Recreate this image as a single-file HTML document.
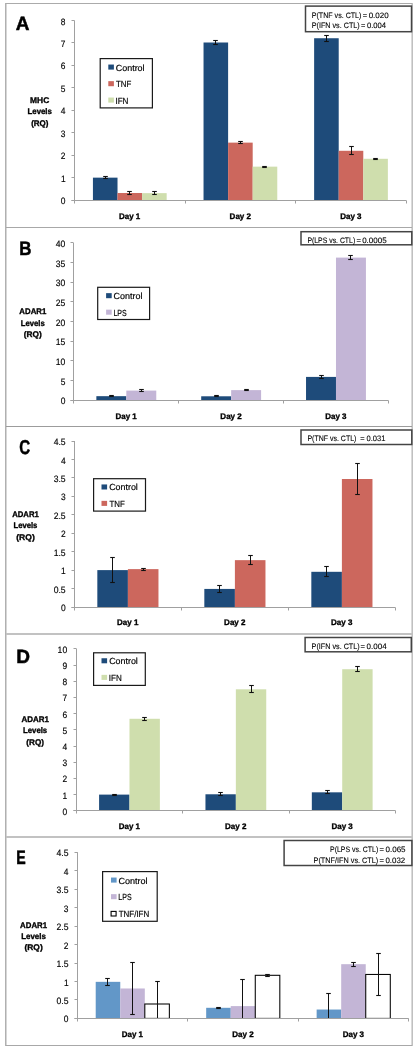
<!DOCTYPE html>
<html><head><meta charset="utf-8"><style>
html,body{margin:0;padding:0;background:#fff;width:417px;height:1050px;overflow:hidden}
svg{display:block;font-family:"Liberation Sans",sans-serif;-webkit-font-smoothing:antialiased;will-change:transform;text-rendering:geometricPrecision}
</style></head><body>
<svg width="417" height="1050" viewBox="0 0 417 1050" font-family="Liberation Sans, sans-serif">
<rect width="417" height="1050" fill="#fff"/>
<rect x="5" y="3" width="408" height="1" fill="#ababab"/>
<rect x="5" y="1045" width="408" height="1" fill="#a8a8a8"/>
<rect x="5" y="3" width="1" height="1043" fill="#b0b0b0"/>
<rect x="6" y="4" width="1" height="1041" fill="#d6d6d6"/>
<rect x="412" y="3" width="1" height="1043" fill="#c0c0c0"/>
<rect x="411" y="4" width="1" height="1041" fill="#dadada"/>
<rect x="6" y="227" width="406" height="1" fill="#a8a8a8"/>
<rect x="6" y="426" width="406" height="1" fill="#9c9c9c"/>
<rect x="6" y="633" width="406" height="2" fill="#c2c2c2"/>
<rect x="6" y="836" width="406" height="2" fill="#c2c2c2"/>
<rect x="92.93" y="177.65" width="24.58" height="22.45" fill="#1e4b7a"/>
<rect x="203.53" y="42.5" width="24.58" height="157.6" fill="#1e4b7a"/>
<rect x="314.13" y="38.24" width="24.58" height="161.86" fill="#1e4b7a"/>
<rect x="117.51" y="193.01" width="24.58" height="7.09" fill="#cc675d"/>
<rect x="228.11" y="142.63" width="24.58" height="57.47" fill="#cc675d"/>
<rect x="338.71" y="150.8" width="24.58" height="49.3" fill="#cc675d"/>
<rect x="142.09" y="193.14" width="24.58" height="6.96" fill="#cfdead"/>
<rect x="252.69" y="166.65" width="24.58" height="33.45" fill="#cfdead"/>
<rect x="363.29" y="158.79" width="24.58" height="41.31" fill="#cfdead"/>
<line x1="105.5" y1="176.5" x2="105.5" y2="178.5" stroke="#111" stroke-width="1"/>
<line x1="103.2" y1="176.5" x2="107.8" y2="176.5" stroke="#111" stroke-width="1.1"/>
<line x1="103.2" y1="178.5" x2="107.8" y2="178.5" stroke="#111" stroke-width="1.1"/>
<line x1="215.5" y1="40.5" x2="215.5" y2="44.5" stroke="#111" stroke-width="1"/>
<line x1="213.2" y1="40.5" x2="217.8" y2="40.5" stroke="#111" stroke-width="1.1"/>
<line x1="213.2" y1="44.5" x2="217.8" y2="44.5" stroke="#111" stroke-width="1.1"/>
<line x1="326.5" y1="35.5" x2="326.5" y2="41.5" stroke="#111" stroke-width="1"/>
<line x1="324.2" y1="35.5" x2="328.8" y2="35.5" stroke="#111" stroke-width="1.1"/>
<line x1="324.2" y1="41.5" x2="328.8" y2="41.5" stroke="#111" stroke-width="1.1"/>
<line x1="129.5" y1="191.5" x2="129.5" y2="194.5" stroke="#111" stroke-width="1"/>
<line x1="127.2" y1="191.5" x2="131.8" y2="191.5" stroke="#111" stroke-width="1.1"/>
<line x1="127.2" y1="194.5" x2="131.8" y2="194.5" stroke="#111" stroke-width="1.1"/>
<line x1="240.5" y1="141.5" x2="240.5" y2="143.5" stroke="#111" stroke-width="1"/>
<line x1="238.2" y1="141.5" x2="242.8" y2="141.5" stroke="#111" stroke-width="1.1"/>
<line x1="238.2" y1="143.5" x2="242.8" y2="143.5" stroke="#111" stroke-width="1.1"/>
<line x1="351.5" y1="146.5" x2="351.5" y2="154.5" stroke="#111" stroke-width="1"/>
<line x1="349.2" y1="146.5" x2="353.8" y2="146.5" stroke="#111" stroke-width="1.1"/>
<line x1="349.2" y1="154.5" x2="353.8" y2="154.5" stroke="#111" stroke-width="1.1"/>
<line x1="154.5" y1="191.5" x2="154.5" y2="194.5" stroke="#111" stroke-width="1"/>
<line x1="152.2" y1="191.5" x2="156.8" y2="191.5" stroke="#111" stroke-width="1.1"/>
<line x1="152.2" y1="194.5" x2="156.8" y2="194.5" stroke="#111" stroke-width="1.1"/>
<line x1="264.5" y1="166.5" x2="264.5" y2="167.5" stroke="#111" stroke-width="1"/>
<line x1="262.2" y1="166.5" x2="266.8" y2="166.5" stroke="#111" stroke-width="1.1"/>
<line x1="262.2" y1="167.5" x2="266.8" y2="167.5" stroke="#111" stroke-width="1.1"/>
<line x1="375.5" y1="158.5" x2="375.5" y2="159.5" stroke="#111" stroke-width="1"/>
<line x1="373.2" y1="158.5" x2="377.8" y2="158.5" stroke="#111" stroke-width="1.1"/>
<line x1="373.2" y1="159.5" x2="377.8" y2="159.5" stroke="#111" stroke-width="1.1"/>
<line x1="74.5" y1="20.5" x2="74.5" y2="203.5" stroke="#a0a0a0" stroke-width="1"/>
<line x1="71.5" y1="200.5" x2="406.3" y2="200.5" stroke="#a0a0a0" stroke-width="1"/>
<line x1="71.5" y1="200.5" x2="74.5" y2="200.5" stroke="#a0a0a0" stroke-width="1"/>
<text transform="translate(60.78,204.18) scale(0.9177,1)" font-size="9.2" font-weight="normal" fill="#000" stroke="#000" stroke-width="0.15">0</text>
<line x1="71.5" y1="177.5" x2="74.5" y2="177.5" stroke="#a0a0a0" stroke-width="1"/>
<text transform="translate(60.88,181.73) scale(0.9141,1)" font-size="9.2" font-weight="normal" fill="#000" stroke="#000" stroke-width="0.15">1</text>
<line x1="71.5" y1="155.5" x2="74.5" y2="155.5" stroke="#a0a0a0" stroke-width="1"/>
<text transform="translate(60.87,159.28) scale(0.9161,1)" font-size="9.2" font-weight="normal" fill="#000" stroke="#000" stroke-width="0.15">2</text>
<line x1="71.5" y1="132.5" x2="74.5" y2="132.5" stroke="#a0a0a0" stroke-width="1"/>
<text transform="translate(60.82,136.83) scale(0.9173,1)" font-size="9.2" font-weight="normal" fill="#000" stroke="#000" stroke-width="0.15">3</text>
<line x1="71.5" y1="110.5" x2="74.5" y2="110.5" stroke="#a0a0a0" stroke-width="1"/>
<text transform="translate(60.68,114.38) scale(0.9194,1)" font-size="9.2" font-weight="normal" fill="#000" stroke="#000" stroke-width="0.15">4</text>
<line x1="71.5" y1="87.5" x2="74.5" y2="87.5" stroke="#a0a0a0" stroke-width="1"/>
<text transform="translate(60.78,91.92) scale(0.9177,1)" font-size="9.2" font-weight="normal" fill="#000" stroke="#000" stroke-width="0.15">5</text>
<line x1="71.5" y1="65.5" x2="74.5" y2="65.5" stroke="#a0a0a0" stroke-width="1"/>
<text transform="translate(60.82,69.48) scale(0.9165,1)" font-size="9.2" font-weight="normal" fill="#000" stroke="#000" stroke-width="0.15">6</text>
<line x1="71.5" y1="42.5" x2="74.5" y2="42.5" stroke="#a0a0a0" stroke-width="1"/>
<text transform="translate(60.87,47.02) scale(0.9161,1)" font-size="9.2" font-weight="normal" fill="#000" stroke="#000" stroke-width="0.15">7</text>
<line x1="71.5" y1="20.5" x2="74.5" y2="20.5" stroke="#a0a0a0" stroke-width="1"/>
<text transform="translate(60.78,24.57) scale(0.9173,1)" font-size="9.2" font-weight="normal" fill="#000" stroke="#000" stroke-width="0.15">8</text>
<line x1="185.5" y1="200.5" x2="185.5" y2="203.5" stroke="#a0a0a0" stroke-width="1"/>
<line x1="295.5" y1="200.5" x2="295.5" y2="203.5" stroke="#a0a0a0" stroke-width="1"/>
<line x1="406.5" y1="200.5" x2="406.5" y2="203.5" stroke="#a0a0a0" stroke-width="1"/>
<text transform="translate(119,218.53) scale(0.9896,1)" font-size="8.07" font-weight="bold" fill="#000" stroke="#000" stroke-width="0.33">Day 1</text>
<text transform="translate(229.59,218.53) scale(0.9954,1)" font-size="8.07" font-weight="bold" fill="#000" stroke="#000" stroke-width="0.33">Day 2</text>
<text transform="translate(340.19,218.53) scale(0.9934,1)" font-size="8.07" font-weight="bold" fill="#000" stroke="#000" stroke-width="0.33">Day 3</text>
<text transform="translate(15.68,30.45) scale(0.9761,1)" font-size="19.42" font-weight="bold" fill="#000" stroke="#000" stroke-width="0.5">A</text>
<text transform="translate(30.07,102.83) scale(1.0231,1)" font-size="8.22" font-weight="bold" fill="#000" stroke="#000" stroke-width="0.33">MHC</text>
<text transform="translate(27.56,114.33) scale(0.9505,1)" font-size="8.22" font-weight="bold" fill="#000" stroke="#000" stroke-width="0.33">Levels</text>
<text transform="translate(31.17,125.83) scale(0.9683,1)" font-size="8.22" font-weight="bold" fill="#000" stroke="#000" stroke-width="0.33">(RQ)</text>
<rect x="100.2" y="58.6" width="52.2" height="49.3" fill="#fff" stroke="#1a1a1a" stroke-width="1.2"/>
<rect x="108.3" y="64.55" width="5.6" height="5.05" fill="#1e4b7a"/>
<text transform="translate(115.74,70.51) scale(1.0102,1)" font-size="8.87" font-weight="normal" fill="#000" stroke="#000" stroke-width="0.18">Control</text>
<rect x="108.3" y="81.15" width="5.6" height="5.05" fill="#cc675d"/>
<text transform="translate(115.99,87.11) scale(0.8888,1)" font-size="8.87" font-weight="normal" fill="#000" stroke="#000" stroke-width="0.18">TNF</text>
<rect x="108.3" y="97.55" width="5.6" height="5.05" fill="#cfdead"/>
<text transform="translate(115.46,103.51) scale(0.9098,1)" font-size="8.87" font-weight="normal" fill="#000" stroke="#000" stroke-width="0.18">IFN</text>
<rect x="305.5" y="6.1" width="106" height="25.6" fill="#fff" stroke="#444" stroke-width="1.5"/>
<text transform="translate(311.68,18.05) scale(0.9078,1)" font-size="7.83" font-weight="normal" fill="#000" stroke="#000" stroke-width="0.1">P(TNF vs. CTL)</text>
<text transform="translate(362.78,18.05) scale(0.9485,1)" font-size="7.83" font-weight="normal" fill="#000" stroke="#000" stroke-width="0.1">=</text>
<text transform="translate(368.63,18.05) scale(1.0243,1)" font-size="7.83" font-weight="normal" fill="#000" stroke="#000" stroke-width="0.1">0.020</text>
<text transform="translate(311.67,28.45) scale(0.9204,1)" font-size="7.83" font-weight="normal" fill="#000" stroke="#000" stroke-width="0.1">P(IFN vs. CTL)</text>
<text transform="translate(360.88,28.45) scale(0.9485,1)" font-size="7.83" font-weight="normal" fill="#000" stroke="#000" stroke-width="0.1">=</text>
<text transform="translate(366.94,28.45) scale(0.9781,1)" font-size="7.83" font-weight="normal" fill="#000" stroke="#000" stroke-width="0.1">0.004</text>
<rect x="96.36" y="396.17" width="29.95" height="3.93" fill="#1e4b7a"/>
<rect x="201.2" y="396.29" width="29.95" height="3.81" fill="#1e4b7a"/>
<rect x="306.03" y="376.91" width="29.95" height="23.19" fill="#1e4b7a"/>
<rect x="126.32" y="390.59" width="29.95" height="9.51" fill="#c3b5d6"/>
<rect x="231.15" y="390.12" width="29.95" height="9.98" fill="#c3b5d6"/>
<rect x="335.98" y="257.6" width="29.95" height="142.5" fill="#c3b5d6"/>
<line x1="111.5" y1="395.5" x2="111.5" y2="396.5" stroke="#111" stroke-width="1"/>
<line x1="109.2" y1="395.5" x2="113.8" y2="395.5" stroke="#111" stroke-width="1.1"/>
<line x1="109.2" y1="396.5" x2="113.8" y2="396.5" stroke="#111" stroke-width="1.1"/>
<line x1="216.5" y1="395.5" x2="216.5" y2="396.5" stroke="#111" stroke-width="1"/>
<line x1="214.2" y1="395.5" x2="218.8" y2="395.5" stroke="#111" stroke-width="1.1"/>
<line x1="214.2" y1="396.5" x2="218.8" y2="396.5" stroke="#111" stroke-width="1.1"/>
<line x1="321.5" y1="375.5" x2="321.5" y2="378.5" stroke="#111" stroke-width="1"/>
<line x1="319.2" y1="375.5" x2="323.8" y2="375.5" stroke="#111" stroke-width="1.1"/>
<line x1="319.2" y1="378.5" x2="323.8" y2="378.5" stroke="#111" stroke-width="1.1"/>
<line x1="141.5" y1="389.5" x2="141.5" y2="391.5" stroke="#111" stroke-width="1"/>
<line x1="139.2" y1="389.5" x2="143.8" y2="389.5" stroke="#111" stroke-width="1.1"/>
<line x1="139.2" y1="391.5" x2="143.8" y2="391.5" stroke="#111" stroke-width="1.1"/>
<line x1="246.5" y1="389.5" x2="246.5" y2="390.5" stroke="#111" stroke-width="1"/>
<line x1="244.2" y1="389.5" x2="248.8" y2="389.5" stroke="#111" stroke-width="1.1"/>
<line x1="244.2" y1="390.5" x2="248.8" y2="390.5" stroke="#111" stroke-width="1.1"/>
<line x1="350.5" y1="255.5" x2="350.5" y2="259.5" stroke="#111" stroke-width="1"/>
<line x1="348.2" y1="255.5" x2="352.8" y2="255.5" stroke="#111" stroke-width="1.1"/>
<line x1="348.2" y1="259.5" x2="352.8" y2="259.5" stroke="#111" stroke-width="1.1"/>
<line x1="73.5" y1="242.9" x2="73.5" y2="403.5" stroke="#a0a0a0" stroke-width="1"/>
<line x1="70.5" y1="400.5" x2="388.4" y2="400.5" stroke="#a0a0a0" stroke-width="1"/>
<line x1="70.5" y1="400.5" x2="73.5" y2="400.5" stroke="#a0a0a0" stroke-width="1"/>
<text transform="translate(60.68,404.18) scale(0.9177,1)" font-size="9.2" font-weight="normal" fill="#000" stroke="#000" stroke-width="0.15">0</text>
<line x1="70.5" y1="380.5" x2="73.5" y2="380.5" stroke="#a0a0a0" stroke-width="1"/>
<text transform="translate(60.68,384.53) scale(0.9177,1)" font-size="9.2" font-weight="normal" fill="#000" stroke="#000" stroke-width="0.15">5</text>
<line x1="70.5" y1="360.5" x2="73.5" y2="360.5" stroke="#a0a0a0" stroke-width="1"/>
<text transform="translate(55.81,364.88) scale(0.9356,1)" font-size="9.2" font-weight="normal" fill="#000" stroke="#000" stroke-width="0.15">10</text>
<line x1="70.5" y1="341.5" x2="73.5" y2="341.5" stroke="#a0a0a0" stroke-width="1"/>
<text transform="translate(55.81,345.23) scale(0.9356,1)" font-size="9.2" font-weight="normal" fill="#000" stroke="#000" stroke-width="0.15">15</text>
<line x1="70.5" y1="321.5" x2="73.5" y2="321.5" stroke="#a0a0a0" stroke-width="1"/>
<text transform="translate(55.81,325.57) scale(0.9360,1)" font-size="9.2" font-weight="normal" fill="#000" stroke="#000" stroke-width="0.15">20</text>
<line x1="70.5" y1="301.5" x2="73.5" y2="301.5" stroke="#a0a0a0" stroke-width="1"/>
<text transform="translate(55.81,305.93) scale(0.9360,1)" font-size="9.2" font-weight="normal" fill="#000" stroke="#000" stroke-width="0.15">25</text>
<line x1="70.5" y1="282.5" x2="73.5" y2="282.5" stroke="#a0a0a0" stroke-width="1"/>
<text transform="translate(55.81,286.27) scale(0.9361,1)" font-size="9.2" font-weight="normal" fill="#000" stroke="#000" stroke-width="0.15">30</text>
<line x1="70.5" y1="262.5" x2="73.5" y2="262.5" stroke="#a0a0a0" stroke-width="1"/>
<text transform="translate(55.81,266.62) scale(0.9361,1)" font-size="9.2" font-weight="normal" fill="#000" stroke="#000" stroke-width="0.15">35</text>
<line x1="70.5" y1="242.5" x2="73.5" y2="242.5" stroke="#a0a0a0" stroke-width="1"/>
<text transform="translate(55.8,246.98) scale(0.9364,1)" font-size="9.2" font-weight="normal" fill="#000" stroke="#000" stroke-width="0.15">40</text>
<line x1="178.5" y1="400.5" x2="178.5" y2="403.5" stroke="#a0a0a0" stroke-width="1"/>
<line x1="283.5" y1="400.5" x2="283.5" y2="403.5" stroke="#a0a0a0" stroke-width="1"/>
<line x1="388.5" y1="400.5" x2="388.5" y2="403.5" stroke="#a0a0a0" stroke-width="1"/>
<text transform="translate(115.51,418.53) scale(0.9896,1)" font-size="8.07" font-weight="bold" fill="#000" stroke="#000" stroke-width="0.33">Day 1</text>
<text transform="translate(220.34,418.53) scale(0.9954,1)" font-size="8.07" font-weight="bold" fill="#000" stroke="#000" stroke-width="0.33">Day 2</text>
<text transform="translate(325.18,418.53) scale(0.9934,1)" font-size="8.07" font-weight="bold" fill="#000" stroke="#000" stroke-width="0.33">Day 3</text>
<text transform="translate(19.25,254.65) scale(0.8695,1)" font-size="19.42" font-weight="bold" fill="#000" stroke="#000" stroke-width="0.5">B</text>
<text transform="translate(19.37,314.13) scale(0.9488,1)" font-size="8.22" font-weight="bold" fill="#000" stroke="#000" stroke-width="0.33">ADAR1</text>
<text transform="translate(20.77,325.53) scale(0.9343,1)" font-size="8.22" font-weight="bold" fill="#000" stroke="#000" stroke-width="0.33">Levels</text>
<text transform="translate(23.8,336.83) scale(1.0094,1)" font-size="8.22" font-weight="bold" fill="#000" stroke="#000" stroke-width="0.33">(RQ)</text>
<rect x="97.7" y="287.3" width="51.9" height="32.2" fill="#fff" stroke="#1a1a1a" stroke-width="1.2"/>
<rect x="106.1" y="293.15" width="5.6" height="5.05" fill="#1e4b7a"/>
<text transform="translate(113.54,299.11) scale(1.0102,1)" font-size="8.87" font-weight="normal" fill="#000" stroke="#000" stroke-width="0.18">Control</text>
<rect x="106.1" y="309.65" width="5.6" height="5.05" fill="#c3b5d6"/>
<text transform="translate(113.43,315.61) scale(0.7934,1)" font-size="8.87" font-weight="normal" fill="#000" stroke="#000" stroke-width="0.18">LPS</text>
<rect x="301" y="231.7" width="110.8" height="13.1" fill="#fff" stroke="#444" stroke-width="1.5"/>
<text transform="translate(307.4,243.05) scale(0.8788,1)" font-size="7.83" font-weight="normal" fill="#000" stroke="#000" stroke-width="0.1">P(LPS vs. CTL)</text>
<text transform="translate(356.47,243.05) scale(0.9748,1)" font-size="7.83" font-weight="normal" fill="#000" stroke="#000" stroke-width="0.1">=</text>
<text transform="translate(362.13,243.05) scale(1.0248,1)" font-size="7.83" font-weight="normal" fill="#000" stroke="#000" stroke-width="0.1">0.0005</text>
<rect x="97.33" y="570.11" width="30.57" height="36.89" fill="#1e4b7a"/>
<rect x="204.33" y="588.92" width="30.57" height="18.08" fill="#1e4b7a"/>
<rect x="311.33" y="571.81" width="30.57" height="35.19" fill="#1e4b7a"/>
<rect x="127.9" y="569.12" width="30.57" height="37.88" fill="#cc675d"/>
<rect x="234.9" y="560.15" width="30.57" height="46.85" fill="#cc675d"/>
<rect x="341.9" y="479" width="30.57" height="128" fill="#cc675d"/>
<line x1="112.5" y1="557.5" x2="112.5" y2="582.5" stroke="#111" stroke-width="1"/>
<line x1="110.2" y1="557.5" x2="114.8" y2="557.5" stroke="#111" stroke-width="1.1"/>
<line x1="110.2" y1="582.5" x2="114.8" y2="582.5" stroke="#111" stroke-width="1.1"/>
<line x1="219.5" y1="585.5" x2="219.5" y2="592.5" stroke="#111" stroke-width="1"/>
<line x1="217.2" y1="585.5" x2="221.8" y2="585.5" stroke="#111" stroke-width="1.1"/>
<line x1="217.2" y1="592.5" x2="221.8" y2="592.5" stroke="#111" stroke-width="1.1"/>
<line x1="326.5" y1="566.5" x2="326.5" y2="576.5" stroke="#111" stroke-width="1"/>
<line x1="324.2" y1="566.5" x2="328.8" y2="566.5" stroke="#111" stroke-width="1.1"/>
<line x1="324.2" y1="576.5" x2="328.8" y2="576.5" stroke="#111" stroke-width="1.1"/>
<line x1="143.5" y1="568.5" x2="143.5" y2="570.5" stroke="#111" stroke-width="1"/>
<line x1="141.2" y1="568.5" x2="145.8" y2="568.5" stroke="#111" stroke-width="1.1"/>
<line x1="141.2" y1="570.5" x2="145.8" y2="570.5" stroke="#111" stroke-width="1.1"/>
<line x1="250.5" y1="555.5" x2="250.5" y2="564.5" stroke="#111" stroke-width="1"/>
<line x1="248.2" y1="555.5" x2="252.8" y2="555.5" stroke="#111" stroke-width="1.1"/>
<line x1="248.2" y1="564.5" x2="252.8" y2="564.5" stroke="#111" stroke-width="1.1"/>
<line x1="357.5" y1="463.5" x2="357.5" y2="494.5" stroke="#111" stroke-width="1"/>
<line x1="355.2" y1="463.5" x2="359.8" y2="463.5" stroke="#111" stroke-width="1.1"/>
<line x1="355.2" y1="494.5" x2="359.8" y2="494.5" stroke="#111" stroke-width="1.1"/>
<line x1="74.5" y1="441" x2="74.5" y2="610.5" stroke="#a0a0a0" stroke-width="1"/>
<line x1="71.5" y1="607.5" x2="395.4" y2="607.5" stroke="#a0a0a0" stroke-width="1"/>
<line x1="71.5" y1="607.5" x2="74.5" y2="607.5" stroke="#a0a0a0" stroke-width="1"/>
<text transform="translate(60.98,611.07) scale(0.9177,1)" font-size="9.2" font-weight="normal" fill="#000" stroke="#000" stroke-width="0.15">0</text>
<line x1="71.5" y1="588.5" x2="74.5" y2="588.5" stroke="#a0a0a0" stroke-width="1"/>
<text transform="translate(53.65,592.63) scale(0.9395,1)" font-size="9.2" font-weight="normal" fill="#000" stroke="#000" stroke-width="0.15">0.5</text>
<line x1="71.5" y1="570.5" x2="74.5" y2="570.5" stroke="#a0a0a0" stroke-width="1"/>
<text transform="translate(61.08,574.19) scale(0.9141,1)" font-size="9.2" font-weight="normal" fill="#000" stroke="#000" stroke-width="0.15">1</text>
<line x1="71.5" y1="551.5" x2="74.5" y2="551.5" stroke="#a0a0a0" stroke-width="1"/>
<text transform="translate(53.66,555.74) scale(0.9392,1)" font-size="9.2" font-weight="normal" fill="#000" stroke="#000" stroke-width="0.15">1.5</text>
<line x1="71.5" y1="533.5" x2="74.5" y2="533.5" stroke="#a0a0a0" stroke-width="1"/>
<text transform="translate(61.07,537.3) scale(0.9161,1)" font-size="9.2" font-weight="normal" fill="#000" stroke="#000" stroke-width="0.15">2</text>
<line x1="71.5" y1="514.5" x2="74.5" y2="514.5" stroke="#a0a0a0" stroke-width="1"/>
<text transform="translate(53.65,518.85) scale(0.9394,1)" font-size="9.2" font-weight="normal" fill="#000" stroke="#000" stroke-width="0.15">2.5</text>
<line x1="71.5" y1="496.5" x2="74.5" y2="496.5" stroke="#a0a0a0" stroke-width="1"/>
<text transform="translate(61.02,500.41) scale(0.9173,1)" font-size="9.2" font-weight="normal" fill="#000" stroke="#000" stroke-width="0.15">3</text>
<line x1="71.5" y1="477.5" x2="74.5" y2="477.5" stroke="#a0a0a0" stroke-width="1"/>
<text transform="translate(53.65,481.96) scale(0.9395,1)" font-size="9.2" font-weight="normal" fill="#000" stroke="#000" stroke-width="0.15">3.5</text>
<line x1="71.5" y1="459.5" x2="74.5" y2="459.5" stroke="#a0a0a0" stroke-width="1"/>
<text transform="translate(60.88,463.52) scale(0.9194,1)" font-size="9.2" font-weight="normal" fill="#000" stroke="#000" stroke-width="0.15">4</text>
<line x1="71.5" y1="441.5" x2="74.5" y2="441.5" stroke="#a0a0a0" stroke-width="1"/>
<text transform="translate(53.65,445.07) scale(0.9397,1)" font-size="9.2" font-weight="normal" fill="#000" stroke="#000" stroke-width="0.15">4.5</text>
<line x1="181.5" y1="607.5" x2="181.5" y2="610.5" stroke="#a0a0a0" stroke-width="1"/>
<line x1="288.5" y1="607.5" x2="288.5" y2="610.5" stroke="#a0a0a0" stroke-width="1"/>
<line x1="395.5" y1="607.5" x2="395.5" y2="610.5" stroke="#a0a0a0" stroke-width="1"/>
<text transform="translate(117.1,624.94) scale(0.9896,1)" font-size="8.07" font-weight="bold" fill="#000" stroke="#000" stroke-width="0.33">Day 1</text>
<text transform="translate(224.09,624.94) scale(0.9954,1)" font-size="8.07" font-weight="bold" fill="#000" stroke="#000" stroke-width="0.33">Day 2</text>
<text transform="translate(331.09,624.94) scale(0.9934,1)" font-size="8.07" font-weight="bold" fill="#000" stroke="#000" stroke-width="0.33">Day 3</text>
<text transform="translate(19.35,454.35) scale(0.7503,1)" font-size="20.14" font-weight="bold" fill="#000" stroke="#000" stroke-width="0.5">C</text>
<text transform="translate(12.17,516.84) scale(0.9416,1)" font-size="8.22" font-weight="bold" fill="#000" stroke="#000" stroke-width="0.33">ADAR1</text>
<text transform="translate(13.47,528.34) scale(0.9343,1)" font-size="8.22" font-weight="bold" fill="#000" stroke="#000" stroke-width="0.33">Levels</text>
<text transform="translate(16.24,539.63) scale(1.0388,1)" font-size="8.22" font-weight="bold" fill="#000" stroke="#000" stroke-width="0.33">(RQ)</text>
<rect x="93.6" y="478.7" width="51.9" height="32.4" fill="#fff" stroke="#1a1a1a" stroke-width="1.2"/>
<rect x="101.5" y="484.45" width="5.6" height="5.05" fill="#1e4b7a"/>
<text transform="translate(109.15,490.41) scale(1.0029,1)" font-size="8.87" font-weight="normal" fill="#000" stroke="#000" stroke-width="0.18">Control</text>
<rect x="101.5" y="500.85" width="5.6" height="5.05" fill="#cc675d"/>
<text transform="translate(109.39,506.81) scale(0.8888,1)" font-size="8.87" font-weight="normal" fill="#000" stroke="#000" stroke-width="0.18">TNF</text>
<rect x="301" y="430" width="110.8" height="14.5" fill="#fff" stroke="#444" stroke-width="1.5"/>
<text transform="translate(307.39,441.25) scale(0.8947,1)" font-size="7.83" font-weight="normal" fill="#000" stroke="#000" stroke-width="0.1">P(TNF vs. CTL)</text>
<text transform="translate(360.28,441.25) scale(0.9485,1)" font-size="7.83" font-weight="normal" fill="#000" stroke="#000" stroke-width="0.1">=</text>
<text transform="translate(366.55,441.25) scale(0.9650,1)" font-size="7.83" font-weight="normal" fill="#000" stroke="#000" stroke-width="0.1">0.031</text>
<rect x="99.09" y="794.6" width="30.39" height="16.2" fill="#1e4b7a"/>
<rect x="205.46" y="794.28" width="30.39" height="16.52" fill="#1e4b7a"/>
<rect x="311.83" y="792.33" width="30.39" height="18.47" fill="#1e4b7a"/>
<rect x="129.48" y="718.78" width="30.39" height="92.02" fill="#cfdead"/>
<rect x="235.85" y="689.3" width="30.39" height="121.5" fill="#cfdead"/>
<rect x="342.22" y="669.21" width="30.39" height="141.59" fill="#cfdead"/>
<line x1="114.5" y1="794.5" x2="114.5" y2="795.5" stroke="#111" stroke-width="1"/>
<line x1="112.2" y1="794.5" x2="116.8" y2="794.5" stroke="#111" stroke-width="1.1"/>
<line x1="112.2" y1="795.5" x2="116.8" y2="795.5" stroke="#111" stroke-width="1.1"/>
<line x1="220.5" y1="792.5" x2="220.5" y2="795.5" stroke="#111" stroke-width="1"/>
<line x1="218.2" y1="792.5" x2="222.8" y2="792.5" stroke="#111" stroke-width="1.1"/>
<line x1="218.2" y1="795.5" x2="222.8" y2="795.5" stroke="#111" stroke-width="1.1"/>
<line x1="327.5" y1="790.5" x2="327.5" y2="793.5" stroke="#111" stroke-width="1"/>
<line x1="325.2" y1="790.5" x2="329.8" y2="790.5" stroke="#111" stroke-width="1.1"/>
<line x1="325.2" y1="793.5" x2="329.8" y2="793.5" stroke="#111" stroke-width="1.1"/>
<line x1="144.5" y1="717.5" x2="144.5" y2="720.5" stroke="#111" stroke-width="1"/>
<line x1="142.2" y1="717.5" x2="146.8" y2="717.5" stroke="#111" stroke-width="1.1"/>
<line x1="142.2" y1="720.5" x2="146.8" y2="720.5" stroke="#111" stroke-width="1.1"/>
<line x1="251.5" y1="685.5" x2="251.5" y2="692.5" stroke="#111" stroke-width="1"/>
<line x1="249.2" y1="685.5" x2="253.8" y2="685.5" stroke="#111" stroke-width="1.1"/>
<line x1="249.2" y1="692.5" x2="253.8" y2="692.5" stroke="#111" stroke-width="1.1"/>
<line x1="357.5" y1="666.5" x2="357.5" y2="671.5" stroke="#111" stroke-width="1"/>
<line x1="355.2" y1="666.5" x2="359.8" y2="666.5" stroke="#111" stroke-width="1.1"/>
<line x1="355.2" y1="671.5" x2="359.8" y2="671.5" stroke="#111" stroke-width="1.1"/>
<line x1="76.5" y1="648.8" x2="76.5" y2="813.5" stroke="#a0a0a0" stroke-width="1"/>
<line x1="73.5" y1="810.5" x2="395.4" y2="810.5" stroke="#a0a0a0" stroke-width="1"/>
<line x1="73.5" y1="810.5" x2="76.5" y2="810.5" stroke="#a0a0a0" stroke-width="1"/>
<text transform="translate(62.48,814.87) scale(0.9177,1)" font-size="9.2" font-weight="normal" fill="#000" stroke="#000" stroke-width="0.15">0</text>
<line x1="73.5" y1="794.5" x2="76.5" y2="794.5" stroke="#a0a0a0" stroke-width="1"/>
<text transform="translate(62.58,798.67) scale(0.9141,1)" font-size="9.2" font-weight="normal" fill="#000" stroke="#000" stroke-width="0.15">1</text>
<line x1="73.5" y1="778.5" x2="76.5" y2="778.5" stroke="#a0a0a0" stroke-width="1"/>
<text transform="translate(62.57,782.47) scale(0.9161,1)" font-size="9.2" font-weight="normal" fill="#000" stroke="#000" stroke-width="0.15">2</text>
<line x1="73.5" y1="762.5" x2="76.5" y2="762.5" stroke="#a0a0a0" stroke-width="1"/>
<text transform="translate(62.52,766.27) scale(0.9173,1)" font-size="9.2" font-weight="normal" fill="#000" stroke="#000" stroke-width="0.15">3</text>
<line x1="73.5" y1="746.5" x2="76.5" y2="746.5" stroke="#a0a0a0" stroke-width="1"/>
<text transform="translate(62.38,750.07) scale(0.9194,1)" font-size="9.2" font-weight="normal" fill="#000" stroke="#000" stroke-width="0.15">4</text>
<line x1="73.5" y1="729.5" x2="76.5" y2="729.5" stroke="#a0a0a0" stroke-width="1"/>
<text transform="translate(62.48,733.87) scale(0.9177,1)" font-size="9.2" font-weight="normal" fill="#000" stroke="#000" stroke-width="0.15">5</text>
<line x1="73.5" y1="713.5" x2="76.5" y2="713.5" stroke="#a0a0a0" stroke-width="1"/>
<text transform="translate(62.52,717.67) scale(0.9165,1)" font-size="9.2" font-weight="normal" fill="#000" stroke="#000" stroke-width="0.15">6</text>
<line x1="73.5" y1="697.5" x2="76.5" y2="697.5" stroke="#a0a0a0" stroke-width="1"/>
<text transform="translate(62.57,701.47) scale(0.9161,1)" font-size="9.2" font-weight="normal" fill="#000" stroke="#000" stroke-width="0.15">7</text>
<line x1="73.5" y1="681.5" x2="76.5" y2="681.5" stroke="#a0a0a0" stroke-width="1"/>
<text transform="translate(62.48,685.27) scale(0.9173,1)" font-size="9.2" font-weight="normal" fill="#000" stroke="#000" stroke-width="0.15">8</text>
<line x1="73.5" y1="665.5" x2="76.5" y2="665.5" stroke="#a0a0a0" stroke-width="1"/>
<text transform="translate(62.52,669.07) scale(0.9169,1)" font-size="9.2" font-weight="normal" fill="#000" stroke="#000" stroke-width="0.15">9</text>
<line x1="73.5" y1="648.5" x2="76.5" y2="648.5" stroke="#a0a0a0" stroke-width="1"/>
<text transform="translate(57.61,652.87) scale(0.9356,1)" font-size="9.2" font-weight="normal" fill="#000" stroke="#000" stroke-width="0.15">10</text>
<line x1="182.5" y1="810.5" x2="182.5" y2="813.5" stroke="#a0a0a0" stroke-width="1"/>
<line x1="289.5" y1="810.5" x2="289.5" y2="813.5" stroke="#a0a0a0" stroke-width="1"/>
<line x1="395.5" y1="810.5" x2="395.5" y2="813.5" stroke="#a0a0a0" stroke-width="1"/>
<text transform="translate(118.68,829.24) scale(0.9896,1)" font-size="8.07" font-weight="bold" fill="#000" stroke="#000" stroke-width="0.33">Day 1</text>
<text transform="translate(225.04,829.24) scale(0.9954,1)" font-size="8.07" font-weight="bold" fill="#000" stroke="#000" stroke-width="0.33">Day 2</text>
<text transform="translate(331.41,829.24) scale(0.9934,1)" font-size="8.07" font-weight="bold" fill="#000" stroke="#000" stroke-width="0.33">Day 3</text>
<text transform="translate(16.21,662.65) scale(0.9870,1)" font-size="19.28" font-weight="bold" fill="#000" stroke="#000" stroke-width="0.5">D</text>
<text transform="translate(21.47,722.44) scale(0.9703,1)" font-size="8.22" font-weight="bold" fill="#000" stroke="#000" stroke-width="0.33">ADAR1</text>
<text transform="translate(23.06,733.44) scale(0.9424,1)" font-size="8.22" font-weight="bold" fill="#000" stroke="#000" stroke-width="0.33">Levels</text>
<text transform="translate(26.36,744.84) scale(0.9918,1)" font-size="8.22" font-weight="bold" fill="#000" stroke="#000" stroke-width="0.33">(RQ)</text>
<rect x="93.6" y="652.8" width="51.7" height="32.6" fill="#fff" stroke="#1a1a1a" stroke-width="1.2"/>
<rect x="101.5" y="658.25" width="5.6" height="5.05" fill="#1e4b7a"/>
<text transform="translate(109.15,664.21) scale(1.0029,1)" font-size="8.87" font-weight="normal" fill="#000" stroke="#000" stroke-width="0.18">Control</text>
<rect x="101.5" y="674.85" width="5.6" height="5.05" fill="#cfdead"/>
<text transform="translate(108.86,680.81) scale(0.9098,1)" font-size="8.87" font-weight="normal" fill="#000" stroke="#000" stroke-width="0.18">IFN</text>
<rect x="305.1" y="637.5" width="106.2" height="14.3" fill="#fff" stroke="#444" stroke-width="1.5"/>
<text transform="translate(311.57,648.95) scale(0.9223,1)" font-size="7.83" font-weight="normal" fill="#000" stroke="#000" stroke-width="0.1">P(IFN vs. CTL)</text>
<text transform="translate(360.57,648.95) scale(0.9748,1)" font-size="7.83" font-weight="normal" fill="#000" stroke="#000" stroke-width="0.1">=</text>
<text transform="translate(366.53,648.95) scale(1.0254,1)" font-size="7.83" font-weight="normal" fill="#000" stroke="#000" stroke-width="0.1">0.004</text>
<rect x="95.71" y="981.84" width="24.55" height="36.56" fill="#6297c8"/>
<rect x="206.18" y="1007.8" width="24.55" height="10.6" fill="#6297c8"/>
<rect x="316.64" y="1009.54" width="24.55" height="8.86" fill="#6297c8"/>
<rect x="120.26" y="988.48" width="24.55" height="29.92" fill="#c3b5d6"/>
<rect x="230.73" y="1006.1" width="24.55" height="12.3" fill="#c3b5d6"/>
<rect x="341.19" y="964.18" width="24.55" height="54.22" fill="#c3b5d6"/>
<rect x="144.81" y="1004" width="24.55" height="14.4" fill="#fff" stroke="#000" stroke-width="1.05"/>
<rect x="255.27" y="975.3" width="24.55" height="43.1" fill="#fff" stroke="#000" stroke-width="1.05"/>
<rect x="365.74" y="974.45" width="24.55" height="43.95" fill="#fff" stroke="#000" stroke-width="1.05"/>
<line x1="107.5" y1="978.5" x2="107.5" y2="985.5" stroke="#111" stroke-width="1"/>
<line x1="105.2" y1="978.5" x2="109.8" y2="978.5" stroke="#111" stroke-width="1.1"/>
<line x1="105.2" y1="985.5" x2="109.8" y2="985.5" stroke="#111" stroke-width="1.1"/>
<line x1="218.5" y1="1007.5" x2="218.5" y2="1008.5" stroke="#111" stroke-width="1"/>
<line x1="216.2" y1="1007.5" x2="220.8" y2="1007.5" stroke="#111" stroke-width="1.1"/>
<line x1="216.2" y1="1008.5" x2="220.8" y2="1008.5" stroke="#111" stroke-width="1.1"/>
<line x1="328.5" y1="993.5" x2="328.5" y2="1018.4" stroke="#111" stroke-width="1"/>
<line x1="326.2" y1="993.5" x2="330.8" y2="993.5" stroke="#111" stroke-width="1.1"/>
<line x1="132.5" y1="962.5" x2="132.5" y2="1014.5" stroke="#111" stroke-width="1"/>
<line x1="130.2" y1="962.5" x2="134.8" y2="962.5" stroke="#111" stroke-width="1.1"/>
<line x1="130.2" y1="1014.5" x2="134.8" y2="1014.5" stroke="#111" stroke-width="1.1"/>
<line x1="242.5" y1="979.5" x2="242.5" y2="1018.4" stroke="#111" stroke-width="1"/>
<line x1="240.2" y1="979.5" x2="244.8" y2="979.5" stroke="#111" stroke-width="1.1"/>
<line x1="353.5" y1="962.5" x2="353.5" y2="966.5" stroke="#111" stroke-width="1"/>
<line x1="351.2" y1="962.5" x2="355.8" y2="962.5" stroke="#111" stroke-width="1.1"/>
<line x1="351.2" y1="966.5" x2="355.8" y2="966.5" stroke="#111" stroke-width="1.1"/>
<line x1="157.5" y1="981.5" x2="157.5" y2="1018.4" stroke="#111" stroke-width="1"/>
<line x1="155.2" y1="981.5" x2="159.8" y2="981.5" stroke="#111" stroke-width="1.1"/>
<line x1="267.5" y1="974.5" x2="267.5" y2="976.5" stroke="#111" stroke-width="1"/>
<line x1="265.2" y1="974.5" x2="269.8" y2="974.5" stroke="#111" stroke-width="1.1"/>
<line x1="265.2" y1="976.5" x2="269.8" y2="976.5" stroke="#111" stroke-width="1.1"/>
<line x1="378.5" y1="953.5" x2="378.5" y2="995.5" stroke="#111" stroke-width="1"/>
<line x1="376.2" y1="953.5" x2="380.8" y2="953.5" stroke="#111" stroke-width="1.1"/>
<line x1="376.2" y1="995.5" x2="380.8" y2="995.5" stroke="#111" stroke-width="1.1"/>
<line x1="77.5" y1="852.2" x2="77.5" y2="1021.5" stroke="#a0a0a0" stroke-width="1"/>
<line x1="74.5" y1="1018.5" x2="408.7" y2="1018.5" stroke="#a0a0a0" stroke-width="1"/>
<line x1="74.5" y1="1018.5" x2="77.5" y2="1018.5" stroke="#a0a0a0" stroke-width="1"/>
<text transform="translate(63.78,1022.47) scale(0.9177,1)" font-size="9.2" font-weight="normal" fill="#000" stroke="#000" stroke-width="0.15">0</text>
<line x1="74.5" y1="999.5" x2="77.5" y2="999.5" stroke="#a0a0a0" stroke-width="1"/>
<text transform="translate(56.45,1004.01) scale(0.9395,1)" font-size="9.2" font-weight="normal" fill="#000" stroke="#000" stroke-width="0.15">0.5</text>
<line x1="74.5" y1="981.5" x2="77.5" y2="981.5" stroke="#a0a0a0" stroke-width="1"/>
<text transform="translate(63.88,985.54) scale(0.9141,1)" font-size="9.2" font-weight="normal" fill="#000" stroke="#000" stroke-width="0.15">1</text>
<line x1="74.5" y1="963.5" x2="77.5" y2="963.5" stroke="#a0a0a0" stroke-width="1"/>
<text transform="translate(56.46,967.07) scale(0.9392,1)" font-size="9.2" font-weight="normal" fill="#000" stroke="#000" stroke-width="0.15">1.5</text>
<line x1="74.5" y1="944.5" x2="77.5" y2="944.5" stroke="#a0a0a0" stroke-width="1"/>
<text transform="translate(63.87,948.61) scale(0.9161,1)" font-size="9.2" font-weight="normal" fill="#000" stroke="#000" stroke-width="0.15">2</text>
<line x1="74.5" y1="926.5" x2="77.5" y2="926.5" stroke="#a0a0a0" stroke-width="1"/>
<text transform="translate(56.45,930.14) scale(0.9394,1)" font-size="9.2" font-weight="normal" fill="#000" stroke="#000" stroke-width="0.15">2.5</text>
<line x1="74.5" y1="907.5" x2="77.5" y2="907.5" stroke="#a0a0a0" stroke-width="1"/>
<text transform="translate(63.82,911.67) scale(0.9173,1)" font-size="9.2" font-weight="normal" fill="#000" stroke="#000" stroke-width="0.15">3</text>
<line x1="74.5" y1="889.5" x2="77.5" y2="889.5" stroke="#a0a0a0" stroke-width="1"/>
<text transform="translate(56.45,893.21) scale(0.9395,1)" font-size="9.2" font-weight="normal" fill="#000" stroke="#000" stroke-width="0.15">3.5</text>
<line x1="74.5" y1="870.5" x2="77.5" y2="870.5" stroke="#a0a0a0" stroke-width="1"/>
<text transform="translate(63.68,874.74) scale(0.9194,1)" font-size="9.2" font-weight="normal" fill="#000" stroke="#000" stroke-width="0.15">4</text>
<line x1="74.5" y1="852.5" x2="77.5" y2="852.5" stroke="#a0a0a0" stroke-width="1"/>
<text transform="translate(56.45,856.27) scale(0.9397,1)" font-size="9.2" font-weight="normal" fill="#000" stroke="#000" stroke-width="0.15">4.5</text>
<line x1="187.5" y1="1018.5" x2="187.5" y2="1021.5" stroke="#a0a0a0" stroke-width="1"/>
<line x1="298.5" y1="1018.5" x2="298.5" y2="1021.5" stroke="#a0a0a0" stroke-width="1"/>
<line x1="408.5" y1="1018.5" x2="408.5" y2="1021.5" stroke="#a0a0a0" stroke-width="1"/>
<text transform="translate(121.73,1036.93) scale(0.9896,1)" font-size="8.07" font-weight="bold" fill="#000" stroke="#000" stroke-width="0.33">Day 1</text>
<text transform="translate(232.19,1036.93) scale(0.9954,1)" font-size="8.07" font-weight="bold" fill="#000" stroke="#000" stroke-width="0.33">Day 2</text>
<text transform="translate(342.66,1036.93) scale(0.9934,1)" font-size="8.07" font-weight="bold" fill="#000" stroke="#000" stroke-width="0.33">Day 3</text>
<text transform="translate(16.33,864.45) scale(0.7291,1)" font-size="19.42" font-weight="bold" fill="#000" stroke="#000" stroke-width="0.5">E</text>
<text transform="translate(20.12,927.84) scale(0.9524,1)" font-size="8.22" font-weight="bold" fill="#000" stroke="#000" stroke-width="0.33">ADAR1</text>
<text transform="translate(21.25,939.04) scale(0.9586,1)" font-size="8.22" font-weight="bold" fill="#000" stroke="#000" stroke-width="0.33">Levels</text>
<text transform="translate(24.5,950.44) scale(1.0212,1)" font-size="8.22" font-weight="bold" fill="#000" stroke="#000" stroke-width="0.33">(RQ)</text>
<rect x="102.6" y="871.6" width="54.6" height="49.7" fill="#fff" stroke="#1a1a1a" stroke-width="1.2"/>
<rect x="111" y="877.55" width="5.6" height="5.05" fill="#6297c8"/>
<text transform="translate(118.44,883.51) scale(1.0211,1)" font-size="8.87" font-weight="normal" fill="#000" stroke="#000" stroke-width="0.18">Control</text>
<rect x="111" y="894.15" width="5.6" height="5.05" fill="#c3b5d6"/>
<text transform="translate(118.33,900.11) scale(0.7934,1)" font-size="8.87" font-weight="normal" fill="#000" stroke="#000" stroke-width="0.18">LPS</text>
<rect x="111.1" y="911.4" width="5" height="4.6" fill="#fff" stroke="#000" stroke-width="1.1"/>
<text transform="translate(118.69,917.11) scale(0.8995,1)" font-size="8.87" font-weight="normal" fill="#000" stroke="#000" stroke-width="0.18">TNF/IFN</text>
<rect x="284.1" y="840.5" width="127.8" height="25" fill="#fff" stroke="#444" stroke-width="1.5"/>
<text transform="translate(330.1,851.95) scale(0.8844,1)" font-size="7.83" font-weight="normal" fill="#000" stroke="#000" stroke-width="0.1">P(LPS vs. CTL)</text>
<text transform="translate(379.57,851.95) scale(0.9748,1)" font-size="7.83" font-weight="normal" fill="#000" stroke="#000" stroke-width="0.1">=</text>
<text transform="translate(385.43,851.95) scale(1.0296,1)" font-size="7.83" font-weight="normal" fill="#000" stroke="#000" stroke-width="0.1">0.065</text>
<text transform="translate(313.57,862.55) scale(0.9293,1)" font-size="7.83" font-weight="normal" fill="#000" stroke="#000" stroke-width="0.1">P(TNF/IFN vs. CTL)</text>
<text transform="translate(379.57,862.55) scale(0.9748,1)" font-size="7.83" font-weight="normal" fill="#000" stroke="#000" stroke-width="0.1">=</text>
<text transform="translate(385.43,862.55) scale(1.0127,1)" font-size="7.83" font-weight="normal" fill="#000" stroke="#000" stroke-width="0.1">0.032</text>
</svg>
</body></html>
